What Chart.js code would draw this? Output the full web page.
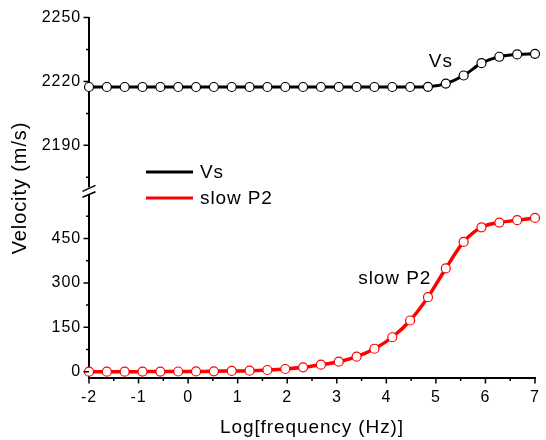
<!DOCTYPE html>
<html><head><meta charset="utf-8">
<script src="https://cdn.jsdelivr.net/npm/chart.js@4.4.0/dist/chart.umd.min.js"></script>
<style>html,body{margin:0;padding:0;background:#fff}#wrap{width:546px;height:440px}</style>
</head><body><div id="wrap"><canvas id="c" width="546" height="440"></canvas></div>
<script>
// ---- data ----
const logFreq = [-2,-1.64,-1.28,-0.92,-0.56,-0.2,0.16,0.52,0.88,1.24,1.6,1.96,2.32,2.68,3.04,3.4,3.76,4.12,4.48,4.84,5.2,5.56,5.92,6.28,6.64,7];
const vsVel = [2217.4,2217.4,2217.4,2217.4,2217.4,2217.4,2217.4,2217.4,2217.4,2217.4,2217.4,2217.4,2217.4,2217.4,2217.4,2217.4,2217.4,2217.4,2217.4,2217.5,2219.0,2222.8,2228.6,2231.6,2232.7,2233.0];
const slowP2Vel = [0,0,0.1,0.2,0.4,0.6,0.9,1.3,2.4,3.4,5.7,9.1,14.8,23.6,33.7,50.6,77.6,116.4,173,252,349,438.6,488,504,512,519.6];
const seriesNames = ['Vs','slow P2'];
const xTicks = [-2,-1,0,1,2,3,4,5,6,7];
const xMinor = [-1.5,-0.5,0.5,1.5,2.5,3.5,4.5,5.5,6.5];
const topTicks = [2190,2220,2250];
const topMinor = [2175,2205,2235];
const botTicks = [0,150,300,450];
const botMinor = [75,225,375,525];
const xTitle = 'Log[frequency (Hz)]';
const yTitle = 'Velocity (m/s)';
const labelPos = [[5.1,2229.2],[4.17,313]];

const FONT = "'Liberation Sans', Arial, sans-serif";
Chart.defaults.font.family = FONT;
Chart.defaults.color = '#000';

const deco = {
  id:'deco',
  beforeUpdate(chart){ chart.ctx.letterSpacing='0.9px'; },
  beforeDraw(chart){ chart.ctx.letterSpacing='0.9px'; },
  afterDraw(chart){
    const ctx = chart.ctx, s = chart.scales;
    ctx.save();
    ctx.strokeStyle='#000'; ctx.lineWidth=1.5;
    const xs = s.x, yt = s.yTop, yb = s.yBot;
    const ay = xs.top, ax = yt.right;
    ctx.beginPath();
    xTicks.forEach(v=>{const p=xs.getPixelForValue(v); ctx.moveTo(p,ay); ctx.lineTo(p,ay+6);});
    xMinor.forEach(v=>{const p=xs.getPixelForValue(v); ctx.moveTo(p,ay); ctx.lineTo(p,ay+3.5);});
    topTicks.forEach(v=>{const p=yt.getPixelForValue(v); ctx.moveTo(ax,p); ctx.lineTo(ax-5.5,p);});
    topMinor.forEach(v=>{const p=yt.getPixelForValue(v); ctx.moveTo(ax,p); ctx.lineTo(ax-3,p);});
    botTicks.forEach(v=>{const p=yb.getPixelForValue(v); ctx.moveTo(ax,p); ctx.lineTo(ax-5.5,p);});
    botMinor.forEach(v=>{const p=yb.getPixelForValue(v); ctx.moveTo(ax,p); ctx.lineTo(ax-3,p);});
    ctx.stroke();
    // axis break
    const sy = yt.bottom;
    ctx.fillStyle='#fff';
    ctx.fillRect(ax-3, sy-4, 6, 7);
    ctx.beginPath();
    ctx.moveTo(ax-6.5, sy+0); ctx.lineTo(ax+6.5, sy-6);
    ctx.moveTo(ax-6.5, sy+6); ctx.lineTo(ax+6.5, sy+0.5);
    ctx.lineWidth=1.5; ctx.stroke();
    // y title
    ctx.fillStyle='#000';
    ctx.font = '20px ' + FONT;
    ctx.textAlign='center'; ctx.textBaseline='middle';
    ctx.save(); ctx.translate(20,188); ctx.rotate(-Math.PI/2); ctx.fillText(yTitle,0,0); ctx.restore();
    // series labels
    ctx.font = '19px ' + FONT;
    ctx.fillText(seriesNames[0], xs.getPixelForValue(labelPos[0][0]), yt.getPixelForValue(labelPos[0][1]));
    ctx.fillText(seriesNames[1], xs.getPixelForValue(labelPos[1][0]), yb.getPixelForValue(labelPos[1][1]));
    // legend
    const ds = chart.data.datasets;
    ds.forEach((d,i)=>{
      const y = 172 + i*26;
      ctx.beginPath(); ctx.strokeStyle=d.borderColor; ctx.lineWidth=3;
      ctx.moveTo(146,y); ctx.lineTo(193,y); ctx.stroke();
      ctx.textAlign='left'; ctx.fillStyle='#000';
      ctx.fillText(d.label, 200, y+1);
    });
    ctx.restore();
  }
};

const axisBase = {
  type:'linear', position:'left', stack:'v', offset:false,
  grid:{display:false, drawTicks:false},
  border:{display:true, color:'#000', width:2},
  ticks:{font:{size:16}, color:'#000', padding:8, autoSkip:false, callback:v=>String(v)},
  afterFit(s){ s.width = 89; }
};

new Chart(document.getElementById('c'), {
  type:'line',
  data:{
    datasets:[
      {label:seriesNames[0], data:logFreq.map((x,i)=>({x, y:vsVel[i]})), yAxisID:'yTop',
       borderColor:'#000', borderWidth:3, pointRadius:4.5, pointBackgroundColor:'#fff',
       pointBorderColor:'#000', pointBorderWidth:1.2, cubicInterpolationMode:'monotone', clip:false},
      {label:seriesNames[1], data:logFreq.map((x,i)=>({x, y:slowP2Vel[i]})), yAxisID:'yBot',
       borderColor:'#ff0000', borderWidth:3.5, pointRadius:4.5, pointBackgroundColor:'#fff',
       pointBorderColor:'#ff0000', pointBorderWidth:1.2, cubicInterpolationMode:'monotone', clip:false}
    ]
  },
  options:{
    responsive:false, devicePixelRatio:1, animation:false,
    layout:{padding:{top:17, right:11, left:0, bottom:0}},
    plugins:{legend:{display:false}, tooltip:{enabled:false}},
    scales:{
      x:{type:'linear', position:'bottom', min:-2, max:7,
         grid:{display:false, drawTicks:false},
         border:{display:true, color:'#000', width:2},
         ticks:{font:{size:16}, color:'#000', padding:10, autoSkip:false, maxRotation:0, callback:v=>String(v)},
         afterBuildTicks(s){ s.ticks = xTicks.map(v=>({value:v})); },
         afterFit(s){ s.height = 62.4; s.paddingRight = 4; s.paddingLeft = 4; },
         title:{display:true, text:xTitle, font:{size:19}, color:'#000', padding:{top:0,bottom:1}}},
      yBot:Object.assign({}, axisBase, {min:-20, max:609.7, stackWeight:186.6,
         afterBuildTicks(s){ s.ticks = botTicks.map(v=>({value:v})); }}),
      yTop:Object.assign({}, axisBase, {min:2168.4, max:2250, stackWeight:174,
         afterBuildTicks(s){ s.ticks = topTicks.map(v=>({value:v})); }})
    }
  },
  plugins:[deco]
});
</script></body></html>
